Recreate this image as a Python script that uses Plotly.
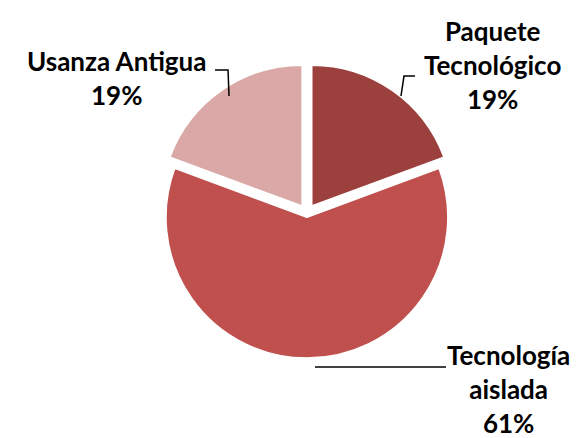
import plotly.graph_objects as go

labels = ["Paquete Tecnológico", "Tecnología aislada", "Usanza Antigua"]
values = [6, 19, 6]
colors = ["#9C403E", "#C0504D", "#D9A8A7"]
pulls = [0.06, 0.03, 0.06]

# label text is written from the data, wrapped the way the source does
wrapped = ["Paquete<br>Tecnológico", "Tecnología<br>aislada", "Usanza Antigua"]
total = sum(values)
pct = [round(v / total * 100) for v in values]

fig = go.Figure()
fig.add_trace(go.Pie(
    labels=labels, values=values, sort=False, direction="clockwise", rotation=0,
    marker=dict(colors=colors, line=dict(color="white", width=1.5)),
    pull=pulls, textinfo="none", hoverinfo="label+percent", showlegend=False,
    domain=dict(x=[0.257, 0.772], y=[0.191, 0.873]),
))

# label positions (pixels, y from top) for each slice
lab_pos = [(484, 57), (500, 381), (108, 70)]
for txt, p, (px, py) in zip(wrapped, pct, lab_pos):
    fig.add_annotation(
        text=f"<b>{txt}<br>{p}%</b>", x=px / 581, y=1 - py / 438, xref="paper", yref="paper",
        xanchor="center", yanchor="middle", showarrow=False, align="center",
        font=dict(family="Lato", size=26, color="#000000"),
    )

# leader lines
leaders = [
    [(407, 68), (396, 68), (393, 88)],
    [(307, 359), (438, 359)],
    [(207, 62), (220, 62), (221, 88)],
]
for pts in leaders:
    path = "M " + " L ".join(f"{x / 581:.4f},{1 - y / 438:.4f}" for x, y in pts)
    fig.add_shape(type="path", path=path, xref="paper", yref="paper",
                  line=dict(color="black", width=1.5))

fig.update_layout(
    width=581, height=438, margin=dict(l=0, r=0, t=0, b=0),
    paper_bgcolor="white", plot_bgcolor="white",
    font=dict(family="Lato"),
)
fig.write_html("out.html")
